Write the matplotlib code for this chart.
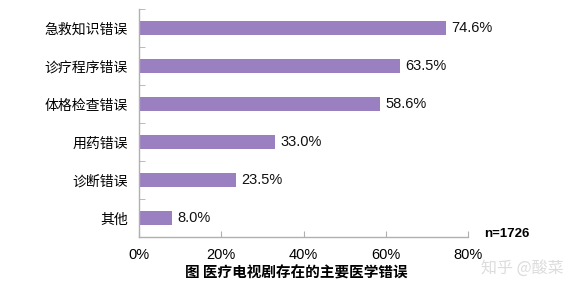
import matplotlib
matplotlib.use("Agg")
import matplotlib.pyplot as plt
import numpy as np

plt.rcParams['font.family'] = ['Noto Sans CJK SC', 'DejaVu Sans']

categories = ["急救知识错误", "诊疗程序错误", "体格检查错误", "用药错误", "诊断错误", "其他"]
values = [74.6, 63.5, 58.6, 33.0, 23.5, 8.0]
xticks = [0, 20, 40, 60, 80]
xtick_labels = ["0%", "20%", "40%", "60%", "80%"]
title = "图 医疗电视剧存在的主要医学错误"
note = "n=1726"
watermark = "知乎 @酸菜"

LAT = ['Liberation Sans', 'DejaVu Sans']

fig = plt.figure(figsize=(5.7, 2.88), dpi=100)
ax = fig.add_axes([139/570, 1-237/288, (468-139)/570, (237-9)/288])

y = np.arange(len(categories))[::-1]
ax.barh(y, values, height=0.37, color='#9a80c0', zorder=2)
for yi, v in zip(y, values):
    ax.text(v + 1.3, yi, f"{v:.1f}%", va='center', ha='left', fontsize=10.5,
            color='#111111', family=LAT)

ax.set_xlim(0, 80)
ax.set_ylim(-0.5, len(categories) - 0.5)
ax.set_xticks(xticks)
ax.set_xticklabels(xtick_labels, fontsize=10.5, family=LAT)
ax.set_yticks(y)
ax.set_yticklabels(categories, fontsize=10)
ax.tick_params(axis='y', length=0, pad=8)
ax.tick_params(axis='x', length=4, direction='in', color='#b0b0b0', pad=8)
# boundary ticks on y axis
ax.set_yticks(np.arange(-0.5, len(categories)), minor=True)
ax.tick_params(axis='y', which='minor', length=4, direction='in', color='#b0b0b0')
for s in ['top', 'right']:
    ax.spines[s].set_visible(False)
for s in ['left', 'bottom']:
    ax.spines[s].set_color('#b0b0b0')
    ax.spines[s].set_linewidth(1)

fig.text(296/570, 1-273/288, title, ha='center', va='center', fontsize=10.5, fontweight='bold')
fig.text(484/570, 1-234/288, note, ha='left', va='center', fontsize=9.5, fontweight='bold', family=LAT)
fig.text(522/570, 1-268/288, watermark, ha='center', va='center', fontsize=11.5, color='#dcdcdc')

fig.savefig("out.png", dpi=100)
